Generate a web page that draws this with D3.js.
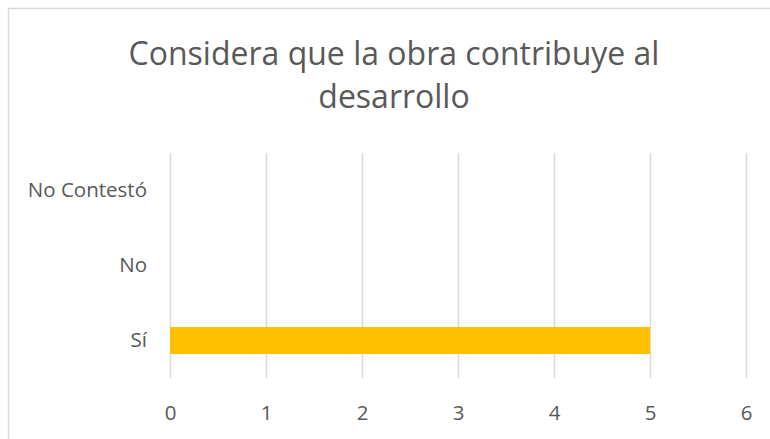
<!DOCTYPE html>
<html>
<head>
<meta charset="utf-8">
<script src="https://cdn.jsdelivr.net/npm/d3@7"></script>
<style>
  body { margin: 0; background: #fff; }
  svg text { font-family: "Open Sans", sans-serif; }
  .axis text { fill: #595959; font-size: 20.5px; }
</style>
</head>
<body>
<svg id="chart"></svg>
<script>
// data
const categories = ["No Contestó", "No", "Sí"];
const values = [0, 0, 5];
const xTicks = [0, 1, 2, 3, 4, 5, 6];
const titleLines = ["Considera que la obra contribuye al", "desarrollo"];

const width = 770, height = 439;
const margin = {top: 153, right: 24, bottom: 61, left: 170};
const innerW = width - margin.left - margin.right;
const innerH = height - margin.top - margin.bottom;

const svg = d3.select("#chart")
    .attr("width", width)
    .attr("height", height);

// chart frame
svg.append("rect")
    .attr("x", 8.5)
    .attr("y", 8.5)
    .attr("width", 790)
    .attr("height", 460)
    .attr("fill", "none")
    .attr("stroke", "#d9d9d9")
    .attr("stroke-width", 1.5);

// title
svg.append("text")
    .attr("x", 394)
    .attr("y", 65)
    .attr("text-anchor", "middle")
    .attr("fill", "#595959")
    .attr("font-family", "'Open Sans', sans-serif")
    .style("font-size", "32px")
    .selectAll("tspan")
    .data(titleLines)
    .join("tspan")
    .attr("x", 394)
    .attr("dy", (d, i) => i === 0 ? 0 : 43)
    .text(d => d);

const chart = svg.append("g")
    .attr("transform", `translate(${margin.left},${margin.top})`);

// scales
const xScale = d3.scaleLinear()
    .domain([0, 6])
    .range([0, innerW]);

const yScale = d3.scaleBand()
    .domain(categories)
    .range([0, innerH])
    .paddingInner(0.64)
    .paddingOuter(0.32);

// gridlines + x labels
const xAxis = d3.axisBottom(xScale)
    .tickValues(xTicks)
    .tickFormat(d3.format("d"))
    .tickSize(innerH)
    .tickPadding(27);

chart.append("g")
    .attr("class", "axis x-axis")
    .call(xAxis)
    .attr("font-family", "'Open Sans', sans-serif")
    .call(g => g.select(".domain").remove())
    .call(g => g.selectAll(".tick line").attr("stroke", "#d9d9d9").attr("stroke-width", 1.5));

// y labels
const yAxis = d3.axisLeft(yScale)
    .tickSize(0)
    .tickPadding(23);

chart.append("g")
    .attr("class", "axis y-axis")
    .call(yAxis)
    .attr("font-family", "'Open Sans', sans-serif")
    .call(g => g.select(".domain").remove());

// bars
chart.selectAll(".bar")
    .data(categories.map((c, i) => ({cat: c, val: values[i]})))
    .join("rect")
    .attr("class", "bar")
    .attr("x", xScale(0))
    .attr("y", d => yScale(d.cat))
    .attr("width", d => xScale(d.val) - xScale(0))
    .attr("height", yScale.bandwidth())
    .attr("fill", "#ffc000");
</script>
</body>
</html>
